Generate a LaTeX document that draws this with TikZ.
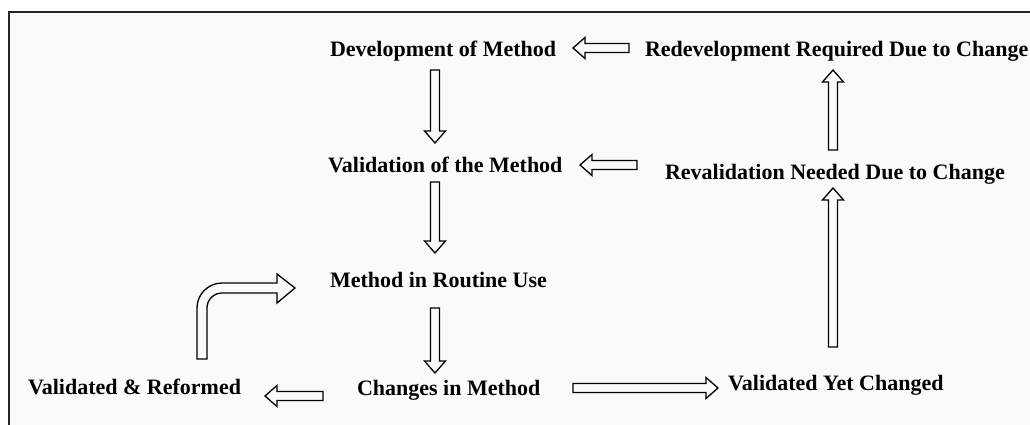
\documentclass[tikz,border=0pt]{standalone}
\usepackage{fontspec}
\setmainfont{Liberation Serif}
\usetikzlibrary{calc}
\tikzset{
  stage/.style = {inner sep=0pt, outer sep=0pt, anchor=base west,
                  font=\bfseries\fontsize{22}{26}\selectfont},
  fatline/.style = {draw=black, line width=1.3pt, line join=miter}
}
% hollow block arrow from #1 to the tip #2
\newcommand{\fatarrow}[2]{%
  \path (#1) coordinate (fa-a) (#2) coordinate (fa-b);
  \path ($(fa-b)!12pt!(fa-a)$) coordinate (fa-h);
  \draw[fatline] ($(fa-a)!4.5pt!90:(fa-b)$) -- ($(fa-h)!4.5pt!90:(fa-b)$)
    -- ($(fa-h)!10.5pt!90:(fa-b)$) -- (fa-b) -- ($(fa-h)!10.5pt!-90:(fa-b)$)
    -- ($(fa-h)!4.5pt!-90:(fa-b)$) -- ($(fa-a)!4.5pt!-90:(fa-b)$) -- cycle;
}

\begin{document}
\begin{tikzpicture}[x=1pt, y=-1pt]
	\useasboundingbox (0,0) rectangle (1030,425);

	% Frame
	\fill[black!2] (9,12) rectangle (1030,425);
	\draw[black!85, line width=1.5pt] (9,425) -- (9,12) -- (1030,12);

	% Stages
	\node[stage] (dev)      at (330,57)  {Development of Method};
	\node[stage] (redev)    at (645,57)  {Redevelopment Required Due to Change};
	\node[stage] (val)      at (328,172) {Validation of the Method};
	\node[stage] (reval)    at (665,179) {Revalidation Needed Due to Change};
	\node[stage] (routine)  at (330,287) {Method in Routine Use};
	\node[stage] (changes)  at (357,395) {Changes in Method};
	\node[stage] (reformed) at (28,394)  {Validated \& Reformed};
	\node[stage] (vyc)      at (728,390) {Validated Yet Changed};

	% Arrows down the left column
	\fatarrow{$(dev.base west)+(105,13)$}{$(val.base west)+(107,-29)$}
	\fatarrow{$(val.base west)+(107,10)$}{$(routine.base west)+(105,-34)$}
	\fatarrow{$(routine.base west)+(105,21)$}{$(changes.base west)+(78,-22)$}

	% Arrows out of the changes
	\fatarrow{$(changes.base west)+(-34,1)$}{$(reformed.base west)+(237,2)$}
	\fatarrow{$(changes.base west)+(216,-7)$}{$(vyc.base west)+(-10,-2)$}

	% Arrows up the right column
	\fatarrow{$(vyc.base west)+(105,-43)$}{$(reval.base west)+(168,9)$}
	\fatarrow{$(reval.base west)+(168,-29)$}{$(redev.base west)+(188,13)$}

	% Arrows back to the left column
	\fatarrow{$(redev.base west)+(-16,-9)$}{$(dev.base west)+(243,-9)$}
	\fatarrow{$(reval.base west)+(-28,-14)$}{$(val.base west)+(252,-7)$}

	% Bent arrow back into routine use
	\draw[fatline] ($(reformed.base west)+(169,-35)$) -- ++(0,-51)
		arc[start angle=180, end angle=90, radius=25pt] -- ++(55,0)
		-- ++(0,-9) -- ++(18,14) -- ++(-18,15) -- ++(0,-10) -- ++(-55,0)
		arc[start angle=90, end angle=180, radius=15pt] -- ++(0,51) -- cycle;

\end{tikzpicture}
\end{document}
